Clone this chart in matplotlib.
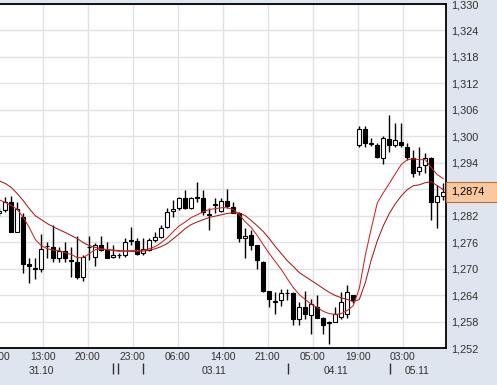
import numpy as np
import matplotlib
matplotlib.use("Agg")
import matplotlib.pyplot as plt
from matplotlib.patches import Rectangle

# ---- data ----
opens = [1.2825, 1.2834, 1.2852, 1.2784, 1.2818, 1.2711, 1.2702, 1.2698, 1.2751, 1.2748,
         1.2725, 1.2739, 1.2720, 1.2714, 1.2682, 1.2748, 1.2727, 1.2754, 1.2743, 1.2727,
         1.2730, 1.2730, 1.2763, 1.2763, 1.2736, 1.2743, 1.2766, 1.2772, 1.2795, 1.2831,
         1.2838, 1.2861, 1.2838, 1.2861, 1.2861, 1.2822, 1.2845, 1.2831, 1.2854, 1.2840,
         1.2827, 1.2770, 1.2777, 1.2754, 1.2716, 1.2650, 1.2625, 1.2628, 1.2644, 1.2644,
         1.2585, 1.2614, 1.2594, 1.2614, 1.2587, 1.2576, 1.2580, 1.2591, 1.2596, 1.2641,
         1.2981, 1.3017, 1.2983, 1.2981, 1.2951, 1.2994, 1.2981, 1.2988, 1.2976, 1.2951,
         1.2922, 1.2936, 1.2951, 1.2852, 1.2865]
highs = [1.2840, 1.2863, 1.2865, 1.2852, 1.2825, 1.2725, 1.2723, 1.2779, 1.2761, 1.2800,
         1.2750, 1.2761, 1.2748, 1.2773, 1.2732, 1.2773, 1.2759, 1.2773, 1.2761, 1.2754,
         1.2736, 1.2770, 1.2795, 1.2770, 1.2770, 1.2770, 1.2782, 1.2800, 1.2838, 1.2856,
         1.2863, 1.2879, 1.2863, 1.2897, 1.2879, 1.2838, 1.2861, 1.2859, 1.2881, 1.2852,
         1.2829, 1.2791, 1.2788, 1.2754, 1.2718, 1.2650, 1.2648, 1.2653, 1.2653, 1.2646,
         1.2625, 1.2650, 1.2630, 1.2641, 1.2591, 1.2582, 1.2614, 1.2648, 1.2662, 1.2641,
         1.3024, 1.3024, 1.2997, 1.2985, 1.3001, 1.3049, 1.3031, 1.3031, 1.2985, 1.2970,
         1.2976, 1.2963, 1.2954, 1.2890, 1.2893]
lows = [1.2820, 1.2829, 1.2782, 1.2782, 1.2689, 1.2668, 1.2677, 1.2693, 1.2725, 1.2714,
        1.2716, 1.2716, 1.2680, 1.2677, 1.2673, 1.2720, 1.2705, 1.2739, 1.2723, 1.2723,
        1.2725, 1.2727, 1.2754, 1.2730, 1.2730, 1.2741, 1.2761, 1.2770, 1.2793, 1.2818,
        1.2834, 1.2836, 1.2836, 1.2852, 1.2822, 1.2788, 1.2827, 1.2829, 1.2838, 1.2825,
        1.2761, 1.2723, 1.2743, 1.2698, 1.2646, 1.2614, 1.2596, 1.2616, 1.2628, 1.2573,
        1.2573, 1.2585, 1.2551, 1.2587, 1.2551, 1.2528, 1.2578, 1.2585, 1.2589, 1.2623,
        1.2976, 1.2976, 1.2979, 1.2951, 1.2938, 1.2965, 1.2976, 1.2976, 1.2947, 1.2908,
        1.2913, 1.2917, 1.2811, 1.2793, 1.2856]
closes = [1.2831, 1.2852, 1.2784, 1.2836, 1.2711, 1.2705, 1.2698, 1.2745, 1.2752, 1.2723,
          1.2741, 1.2723, 1.2717, 1.2680, 1.2727, 1.2748, 1.2754, 1.2743, 1.2725, 1.2732,
          1.2730, 1.2761, 1.2763, 1.2734, 1.2745, 1.2766, 1.2772, 1.2793, 1.2829, 1.2836,
          1.2861, 1.2838, 1.2861, 1.2861, 1.2829, 1.2822, 1.2845, 1.2854, 1.2843, 1.2827,
          1.2770, 1.2775, 1.2754, 1.2720, 1.2650, 1.2630, 1.2625, 1.2644, 1.2644, 1.2585,
          1.2614, 1.2596, 1.2619, 1.2589, 1.2573, 1.2580, 1.2598, 1.2625, 1.2646, 1.2628,
          1.3017, 1.2985, 1.2983, 1.2954, 1.2997, 1.2981, 1.2992, 1.2981, 1.2954, 1.2917,
          1.2931, 1.2951, 1.2852, 1.2865, 1.2874]

# two moving average lines
ma_fast = [1.2856, 1.2850, 1.2843, 1.2834, 1.2816, 1.2793, 1.2766, 1.2752, 1.2745, 1.2742,
           1.2741, 1.2736, 1.2732, 1.2725, 1.2725, 1.2734, 1.2743, 1.2744, 1.2743, 1.2741,
           1.2739, 1.2740, 1.2741, 1.2741, 1.2742, 1.2745, 1.2750, 1.2759, 1.2770, 1.2784,
           1.2797, 1.2806, 1.2816, 1.2822, 1.2829, 1.2834, 1.2836, 1.2838, 1.2838, 1.2834,
           1.2822, 1.2806, 1.2793, 1.2775, 1.2754, 1.2734, 1.2716, 1.2698, 1.2677, 1.2657,
           1.2641, 1.2630, 1.2619, 1.2612, 1.2603, 1.2598, 1.2596, 1.2598, 1.2605, 1.2616,
           1.2655, 1.2730, 1.2791, 1.2849, 1.2872, 1.2893, 1.2915, 1.2936, 1.2947, 1.2949,
           1.2947, 1.2947, 1.2929, 1.2913, 1.2904]
ma_slow = [1.2899, 1.2893, 1.2884, 1.2870, 1.2854, 1.2836, 1.2820, 1.2811, 1.2802, 1.2795,
           1.2788, 1.2782, 1.2775, 1.2768, 1.2759, 1.2752, 1.2748, 1.2745, 1.2743, 1.2742,
           1.2741, 1.2740, 1.2739, 1.2739, 1.2740, 1.2742, 1.2745, 1.2750, 1.2757, 1.2768,
           1.2779, 1.2791, 1.2800, 1.2806, 1.2811, 1.2816, 1.2819, 1.2822, 1.2825, 1.2827,
           1.2826, 1.2820, 1.2809, 1.2797, 1.2784, 1.2768, 1.2750, 1.2734, 1.2718, 1.2705,
           1.2691, 1.2682, 1.2673, 1.2664, 1.2655, 1.2646, 1.2639, 1.2634, 1.2630, 1.2625,
           1.2630, 1.2668, 1.2720, 1.2763, 1.2797, 1.2825, 1.2847, 1.2865, 1.2879, 1.2888,
           1.2890, 1.2895, 1.2897, 1.2888, 1.2879]

time_labels = ["06:00", "13:00", "20:00", "23:00", "06:00", "14:00", "21:00", "05:00", "19:00", "03:00"]
date_labels = ["31.10", "03.11", "04.11", "05.11"]
last_price = 1.2874

# ---- layout ----
grid_x = [-0.25 + 7.5 * k for k in range(len(time_labels))]
date_x = [7.0, 35.8, 56.1, 69.6]
sep_x = [18.95, 19.78, 23.95, 48.1, 65.1]
yticks = np.round(np.arange(1.252, 1.3301, 0.006), 3)

bg = '#dfe5ee'
grid_c = '#e2e2e2'
txt_c = '#303030'
font = 'Liberation Sans'

fig = plt.figure(figsize=(4.97, 3.85), dpi=100)
fig.patch.set_facecolor(bg)
ax = fig.add_axes([0, 1 - 348 / 385, 446 / 497, 344 / 385])
ax.set_facecolor('white')

x = np.arange(len(opens))
o = np.array(opens)
c = np.array(closes)

# gridlines
for gx in grid_x:
    ax.axvline(gx, color=grid_c, lw=1, zorder=0)
for gy in yticks:
    ax.axhline(gy, color=grid_c, lw=1, zorder=0)

# candles
ax.vlines(x, lows, highs, color='black', lw=1, zorder=3)
body_bottom = np.minimum(o, c)
body_h = np.maximum(np.abs(c - o), 0.00008)
body_col = np.where(c >= o, 'white', 'black')
ax.bar(x, body_h, bottom=body_bottom, width=0.62, color=body_col,
       edgecolor='black', linewidth=0.8, zorder=4)

# moving averages
ax.plot(x, ma_slow, color='#a51c1c', lw=0.75, zorder=5)
ax.plot(x, ma_fast, color='#cf2424', lw=0.75, zorder=5)

ax.set_xlim(0.117, 74.45)
ax.set_ylim(1.252, 1.330)

# right price axis (the label under the last-price marker is hidden)
ytick_labels = []
for v in yticks:
    lab = f"{v:.3f}".replace('.', ',')
    if abs(v - last_price) < 0.003:
        lab = ""
    ytick_labels.append(lab)
ax.yaxis.tick_right()
ax.set_yticks(yticks)
ax.set_yticklabels(ytick_labels, fontsize=7.8, color=txt_c, family=font)
ax.tick_params(axis='y', length=0, pad=4)
ax.set_xticks([])

for s in ['top', 'right', 'bottom']:
    ax.spines[s].set_color('black')
    ax.spines[s].set_linewidth(1.3)
ax.spines['left'].set_visible(False)

# time and date labels under the chart
for gx, lab in zip(grid_x, time_labels):
    ax.annotate(lab, (gx, 0), xycoords=('data', 'axes fraction'), xytext=(0, -6.5),
                textcoords='offset points', ha='center', va='center',
                fontsize=7.4, color=txt_c, family=font, annotation_clip=False)
for dx, lab in zip(date_x, date_labels):
    ax.annotate(lab, (dx, 0), xycoords=('data', 'axes fraction'), xytext=(0, -16.6),
                textcoords='offset points', ha='center', va='center',
                fontsize=7.4, color=txt_c, family=font, annotation_clip=False)
ax.vlines(sep_x, -26 / 344, -15 / 344, transform=ax.get_xaxis_transform(),
          color='#303030', lw=1, clip_on=False)

# last price marker
box_h = 20 / 4417
ax.add_patch(Rectangle((1.0, last_price - box_h / 2), 51 / 446, box_h,
                       transform=ax.get_yaxis_transform(), facecolor='#f9c8a0',
                       edgecolor='#b5703f', lw=0.8, clip_on=False, zorder=6))
ax.text(1.0 + 5 / 446, last_price, f"{last_price:.4f}".replace('.', ','),
        transform=ax.get_yaxis_transform(), ha='left', va='center',
        fontsize=7.8, color='black', family=font, zorder=7)

fig.savefig('out.png', dpi=100, facecolor=bg)
